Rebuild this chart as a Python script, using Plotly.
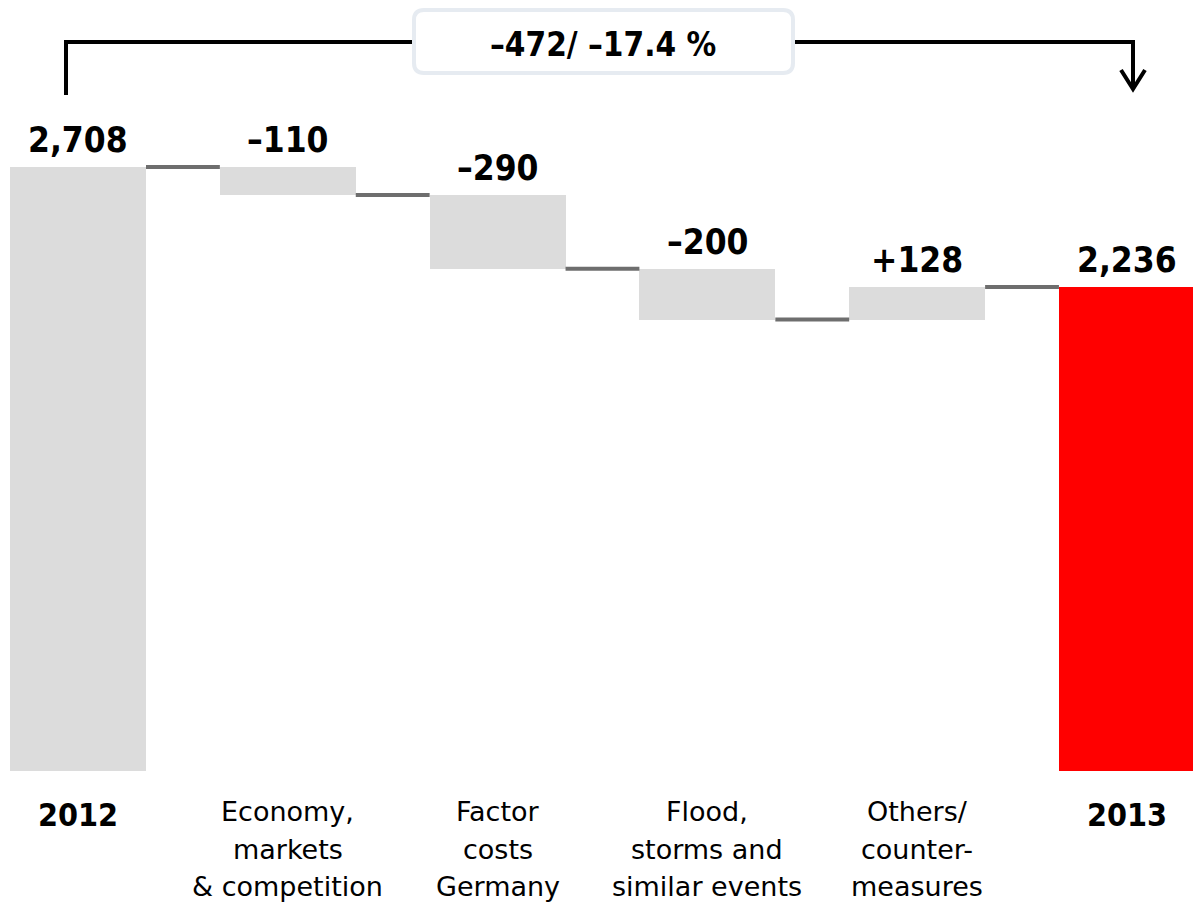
import plotly.graph_objects as go

# Bridge from 2012 to 2013 (EUR mn)
categories = ["2012", "Economy,<br>markets<br>& competition", "Factor<br>costs<br>Germany",
              "Flood,<br>storms and<br>similar events", "Others/<br>counter-<br>measures", "2013"]
start_value = 2708
deltas = [-110, -290, -200, 128]
end_value = 2236

W, H = 1193, 906
PLOT_BOTTOM = 771          # pixel row of the plot-area bottom
Y_FLOOR = 333              # value at the bottom of the plot area
PX_PER_UNIT = 604 / (start_value - Y_FLOOR)
Y_TOP = Y_FLOOR + PLOT_BOTTOM / PX_PER_UNIT
X_RANGE = [-0.372, 5.315]
BAR_W = 0.648

GREY = "#dcdcdc"
RED = "#ff0000"
CONNECTOR = "#6e6e6e"
BOLD_FONT = "DejaVu Sans Condensed, DejaVu Sans, sans-serif"
REG_FONT = "DejaVu Sans, sans-serif"

# running totals
levels = [start_value]
for d in deltas:
    levels.append(levels[-1] + d)

bases, heights, colors, labels = [0], [start_value], [GREY], [f"{start_value:,}"]
for i, d in enumerate(deltas):
    lo = min(levels[i], levels[i + 1])
    bases.append(lo)
    heights.append(abs(d))
    colors.append(GREY)
    labels.append(("+" if d > 0 else "–") + f"{abs(d):,}")
bases.append(0)
heights.append(end_value)
colors.append(RED)
labels.append(f"{end_value:,}")

x = list(range(len(categories)))
tops = [b + h for b, h in zip(bases, heights)]

fig = go.Figure(go.Bar(x=x, y=heights, base=bases, width=BAR_W,
                       marker=dict(color=colors, line=dict(width=0)),
                       hoverinfo="skip"))


def px(xp):
    return xp / W


def py(yp):
    return (PLOT_BOTTOM - yp) / PLOT_BOTTOM


shapes = []
# connectors between consecutive bars at the running total
for i in range(len(categories) - 1):
    shapes.append(dict(type="line", xref="x", yref="y",
                       x0=i + BAR_W / 2, x1=i + 1 - BAR_W / 2,
                       y0=levels[i], y1=levels[i],
                       line=dict(color=CONNECTOR, width=4)))

# bracket from 2012 to 2013
bx0, bx1, btop, bstart, bend = 66, 1133, 42, 95, 89
shapes.append(dict(type="path", xref="paper", yref="paper",
                   path=f"M {px(bx0)},{py(bstart)} L {px(bx0)},{py(btop)} "
                        f"L {px(bx1)},{py(btop)} L {px(bx1)},{py(bend)}",
                   line=dict(color="black", width=4)))
shapes.append(dict(type="path", xref="paper", yref="paper",
                   path=f"M {px(bx1 - 12)},{py(bend - 19)} L {px(bx1)},{py(bend)} "
                        f"L {px(bx1 + 12)},{py(bend - 19)}",
                   line=dict(color="black", width=4)))

# rounded box holding the total change
l, r, t, b, rad = 414, 793, 10, 73, 10
box = (f"M {px(l + rad)},{py(t)} L {px(r - rad)},{py(t)} Q {px(r)},{py(t)} {px(r)},{py(t + rad)} "
       f"L {px(r)},{py(b - rad)} Q {px(r)},{py(b)} {px(r - rad)},{py(b)} "
       f"L {px(l + rad)},{py(b)} Q {px(l)},{py(b)} {px(l)},{py(b - rad)} "
       f"L {px(l)},{py(t + rad)} Q {px(l)},{py(t)} {px(l + rad)},{py(t)} Z")
shapes.append(dict(type="path", xref="paper", yref="paper", path=box,
                   fillcolor="white", line=dict(color="#e6ebf1", width=4)))

annotations = []
# value labels above each bar
for i, (lab, top) in enumerate(zip(labels, tops)):
    annotations.append(dict(x=i, y=top, xref="x", yref="y", text=f"<b>{lab}</b>",
                            showarrow=False, yanchor="bottom", yshift=5,
                            font=dict(family=BOLD_FONT, size=35, color="black")))

# category labels below the bars, one annotation per line
LINE_STEP = 38
for i, cat in enumerate(categories):
    is_year = i in (0, len(categories) - 1)
    for k, line in enumerate(cat.split("<br>")):
        annotations.append(dict(x=i, y=py(815 if is_year else 811 + LINE_STEP * k),
                                xref="x", yref="paper",
                                text=f"<b>{line}</b>" if is_year else line,
                                showarrow=False, yanchor="middle",
                                font=dict(family=BOLD_FONT if is_year else REG_FONT,
                                          size=32 if is_year else 27, color="black")))

change = end_value - start_value
pct = change / start_value * 100
annotations.append(dict(x=px(603), y=py(44), xref="paper", yref="paper",
                        text=f"<b>–{abs(change)}/ –{abs(pct):.1f} %</b>",
                        showarrow=False, yanchor="middle",
                        font=dict(family=BOLD_FONT, size=33, color="black")))

fig.update_layout(
    width=W, height=H,
    margin=dict(l=0, r=0, t=0, b=H - PLOT_BOTTOM, pad=0),
    paper_bgcolor="white", plot_bgcolor="white",
    showlegend=False,
    xaxis=dict(range=X_RANGE, visible=False, fixedrange=True),
    yaxis=dict(range=[Y_FLOOR, Y_TOP], visible=False, fixedrange=True),
    shapes=shapes, annotations=annotations,
    bargap=0,
)

fig.write_html("out.html", config=dict(displayModeBar=False))
